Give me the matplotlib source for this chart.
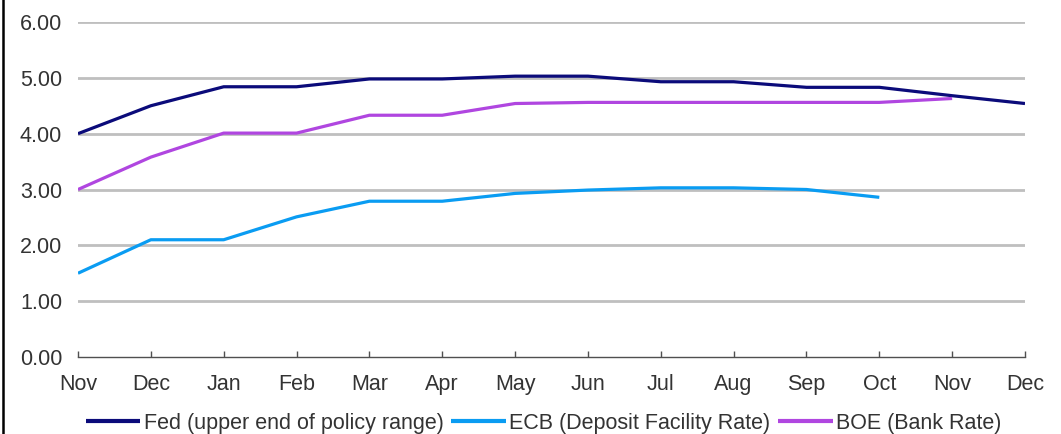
import matplotlib
matplotlib.use("Agg")
import matplotlib.pyplot as plt
from matplotlib.lines import Line2D

months = ["Nov", "Dec", "Jan", "Feb", "Mar", "Apr", "May", "Jun", "Jul", "Aug", "Sep", "Oct", "Nov", "Dec"]
fed = [4.00, 4.50, 4.84, 4.84, 4.98, 4.98, 5.03, 5.03, 4.93, 4.93, 4.83, 4.83, 4.68, 4.54]
ecb = [1.50, 2.10, 2.10, 2.51, 2.79, 2.79, 2.93, 2.99, 3.03, 3.03, 3.00, 2.86]
boe = [3.00, 3.58, 4.01, 4.01, 4.33, 4.33, 4.54, 4.56, 4.56, 4.56, 4.56, 4.56, 4.63]
yticks = [0, 1, 2, 3, 4, 5, 6]

plt.rcParams['font.family'] = ['Liberation Sans', 'DejaVu Sans']
W, H = 1061, 434
fig = plt.figure(figsize=(W / 100, H / 100), dpi=100)
ax = fig.add_axes([78 / W, 1 - 357 / H, (1025 - 78) / W, (357 - 22) / H])

txt = '#333333'
fs = 15.5
ax.plot(range(len(fed)), fed, color='#0b0b7a', lw=2.3, label='Fed (upper end of policy range)', solid_capstyle='butt', zorder=3)
ax.plot(range(len(ecb)), ecb, color='#0a9cf2', lw=2.3, label='ECB (Deposit Facility Rate)', solid_capstyle='butt', zorder=3)
ax.plot(range(len(boe)), boe, color='#b046e0', lw=2.3, label='BOE (Bank Rate)', solid_capstyle='butt', zorder=3)

ax.set_xlim(0, len(months) - 1)
ax.set_ylim(0, 6)
ax.set_yticks(yticks)
ax.set_yticklabels([f"{v:.2f}" for v in yticks])
ax.set_xticks(range(len(months)))
ax.set_xticklabels(months)
for v in yticks[1:]:
    ax.axhline(v, color='#bfbfbf', lw=2.0, zorder=1)

for s in ['left', 'right', 'top']:
    ax.spines[s].set_visible(False)
ax.spines['bottom'].set_color('#505050')
ax.spines['bottom'].set_linewidth(1.0)
ax.tick_params(axis='y', length=0, pad=11.5, labelsize=fs, labelcolor=txt)
ax.tick_params(axis='x', direction='in', length=4, width=1.0, color='#505050', pad=12, labelsize=fs, labelcolor=txt)

leg = fig.legend(loc='center', bbox_to_anchor=(543.5 / W, 1 - 423 / H), ncol=3, frameon=False,
                 fontsize=fs, handlelength=2.55, handletextpad=0.15, columnspacing=0.35, borderpad=0, borderaxespad=0)
for t in leg.get_texts():
    t.set_color(txt)
for l in leg.get_lines():
    l.set_linewidth(3)

fig.add_artist(Line2D([2.5 / W, 2.5 / W], [0, 1], transform=fig.transFigure, color='black', lw=1.8))

fig.savefig('out.png', dpi=100)
